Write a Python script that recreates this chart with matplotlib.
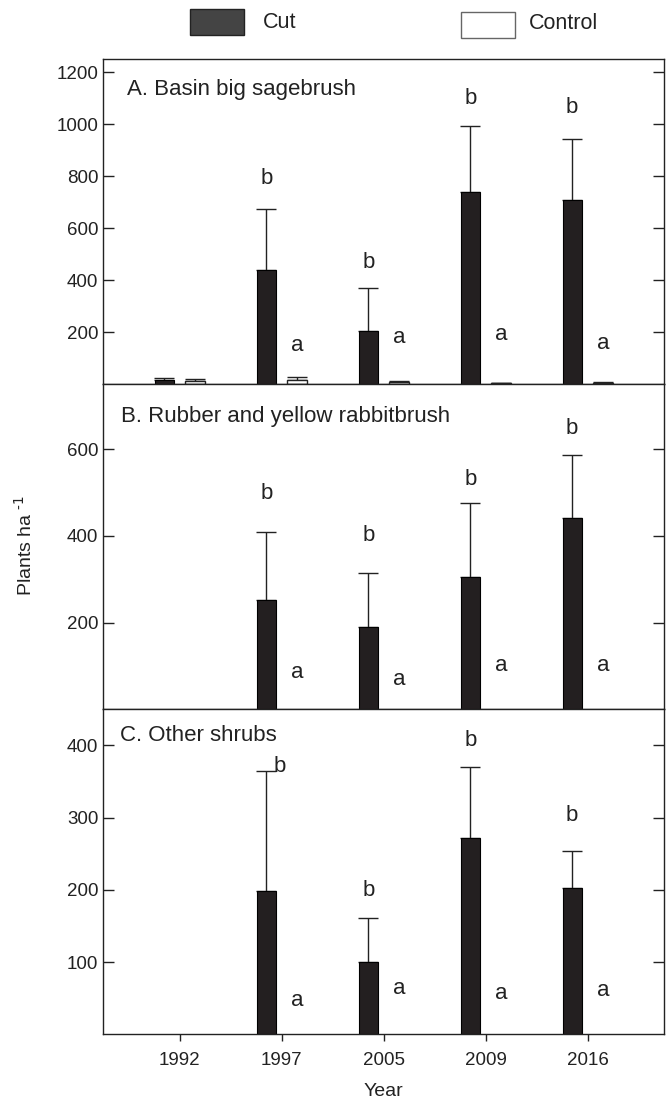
import numpy as np
import matplotlib.pyplot as plt
from matplotlib.patches import Rectangle

plt.rcParams['font.family'] = ['Liberation Sans', 'DejaVu Sans']

years = ['1992', '1997', '2005', '2009', '2016']
nan = np.nan

# panel A: basin big sagebrush
a_cut = [15, 438, 205, 738, 708]
a_cut_err = [9, 235, 164, 254, 237]
a_ctl = [12, 15, 10, 4, 5]
a_ctl_err = [8, 13, 4, 2, 3]
a_cut_lbl = ['', 'b', 'b', 'b', 'b']
a_cut_lbl_y = [nan, 793, 470, 1100, 1065]
a_ctl_lbl = ['', 'a', 'a', 'a', 'a']
a_ctl_lbl_y = [nan, 150, 181, 192, 158]

# panel B: rubber and yellow rabbitbrush
b_cut = [nan, 253, 189, 306, 441]
b_cut_err = [nan, 157, 126, 170, 146]
b_ctl = [nan, nan, nan, nan, nan]
b_ctl_err = [nan, nan, nan, nan, nan]
b_cut_lbl = ['', 'b', 'b', 'b', 'b']
b_cut_lbl_y = [nan, 497, 402, 531, 648]
b_ctl_lbl = ['', 'a', 'a', 'a', 'a']
b_ctl_lbl_y = [nan, 85, 69, 102, 102]

# panel C: other shrubs
c_cut = [nan, 199, 100, 272, 202]
c_cut_err = [nan, 165, 61, 98, 52]
c_ctl = [nan, nan, nan, nan, nan]
c_ctl_err = [nan, nan, nan, nan, nan]
c_cut_lbl = ['', 'b', 'b', 'b', 'b']
c_cut_lbl_y = [nan, 371, 199, 407, 303]
c_ctl_lbl = ['', 'a', 'a', 'a', 'a']
c_ctl_lbl_y = [nan, 47, 64, 57, 61]

panels = [
    ('A. Basin big sagebrush', a_cut, a_cut_err, a_ctl, a_ctl_err,
     a_cut_lbl, a_cut_lbl_y, a_ctl_lbl, a_ctl_lbl_y, 1250, [200, 400, 600, 800, 1000, 1200], (0.042, 0.908)),
    ('B. Rubber and yellow rabbitbrush', b_cut, b_cut_err, b_ctl, b_ctl_err,
     b_cut_lbl, b_cut_lbl_y, b_ctl_lbl, b_ctl_lbl_y, 750, [200, 400, 600], (0.031, 0.902)),
    ('C. Other shrubs', c_cut, c_cut_err, c_ctl, c_ctl_err,
     c_cut_lbl, c_cut_lbl_y, c_ctl_lbl, c_ctl_lbl_y, 450, [100, 200, 300, 400], (0.029, 0.92)),
]

cut_col = '#231f20'
W, H = 668, 1105
fig = plt.figure(figsize=(W / 100, H / 100), dpi=100)

x = np.arange(1, len(years) + 1)
bw = 0.19
off = 0.15
left = 103.3 / W
width = (664 - 103.3) / W
bottom = 1 - 1034.3 / H
ph = (1034.3 - 59.3) / H / 3

for i, p in enumerate(panels):
    (title, cut, cut_err, ctl, ctl_err, cl, cly, tl, tly, ymax, yt, tpos) = p
    ax = fig.add_axes([left, bottom + (2 - i) * ph, width, ph])
    ax.bar(x - off, cut, bw, color=cut_col, edgecolor='black', linewidth=0.8, zorder=2)
    ax.bar(x + off, ctl, bw, color='white', edgecolor='#222222', linewidth=1.0, zorder=2)
    ax.errorbar(x - off, cut, yerr=[np.zeros(5), cut_err], fmt='none',
                ecolor='#222222', elinewidth=1.0, capsize=7.5, capthick=1.0, zorder=1)
    ax.errorbar(x + off, ctl, yerr=[np.zeros(5), ctl_err], fmt='none',
                ecolor='#222222', elinewidth=1.0, capsize=7.5, capthick=1.0, zorder=1)
    for j in range(5):
        if cl[j]:
            dx = 0.127 if (i == 2 and j == 1) else 0
            ax.text(x[j] - off + dx, cly[j], cl[j], ha='center', va='center',
                    fontsize=16, color='#222222')
        if tl[j]:
            ax.text(x[j] + off, tly[j], tl[j], ha='center', va='center',
                    fontsize=16, color='#222222')
    ax.text(tpos[0], tpos[1], title, transform=ax.transAxes, ha='left', va='center',
            fontsize=16, color='#222222')
    ax.set_xlim(0.25, 5.75)
    ax.set_ylim(0, ymax)
    ax.set_yticks(yt)
    ax.tick_params(axis='y', direction='in', length=8, width=1, right=True,
                   labelsize=13.5, colors='#222222')
    for s in ax.spines.values():
        s.set_linewidth(1.0)
        s.set_color('#222222')
    if i < 2:
        ax.tick_params(axis='x', bottom=False, labelbottom=False)
    else:
        ax.set_xticks(x)
        ax.set_xticklabels(years)
        ax.tick_params(axis='x', direction='out', length=5, width=1,
                       labelsize=13.5, colors='#222222', pad=8)

fig.text(25 / W, 1 - 545 / H, r'Plants ha $^{\text{-1}}$', rotation=90, ha='center', va='center',
         fontsize=14, color='#222222')
fig.text((103.3 + 664) / 2 / W, 1 - 1092 / H, 'Year', ha='center', va='center',
         fontsize=14, color='#222222')

# legend
fig.patches.append(Rectangle((190 / W, 1 - 35.3 / H), 54 / W, 26 / H, transform=fig.transFigure,
                             facecolor='#444444', edgecolor='#222222', linewidth=1))
fig.text(263 / W, 1 - 22 / H, 'Cut', ha='left', va='center', fontsize=15.5, color='#222222')
fig.patches.append(Rectangle((460.7 / W, 1 - 37.7 / H), 54.3 / W, 25.7 / H, transform=fig.transFigure,
                             facecolor='white', edgecolor='#666666', linewidth=1))
fig.text(529 / W, 1 - 23.5 / H, 'Control', ha='left', va='center', fontsize=15.5, color='#222222')

fig.savefig('out.png', dpi=100)
